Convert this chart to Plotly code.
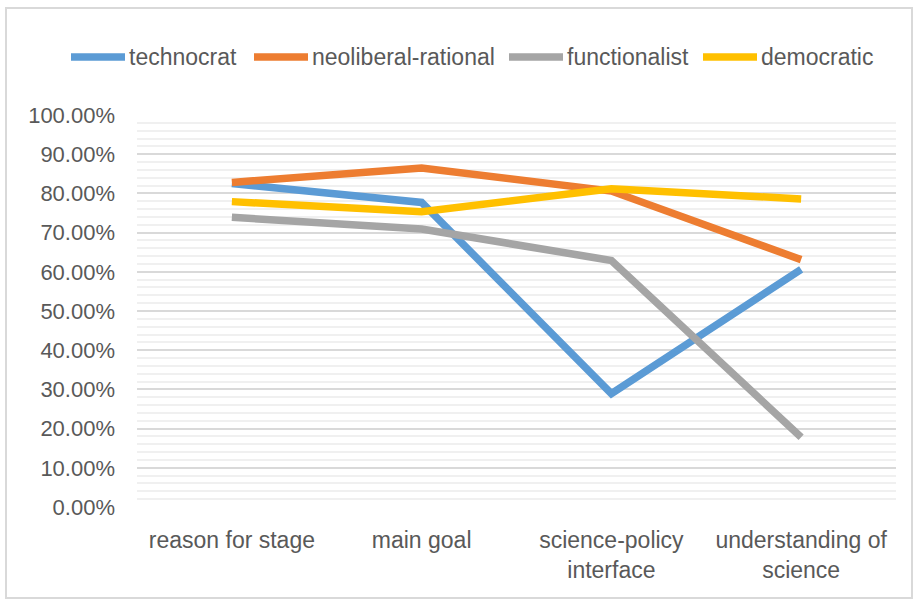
import plotly.graph_objects as go

# Categories along the x axis
categories = ["reason for stage", "main goal", "science-policy<br>interface", "understanding of<br>science"]

# Share of agreement per model (fractions)
technocrat = [0.825, 0.777, 0.289, 0.606]
neoliberal_rational = [0.828, 0.865, 0.806, 0.631]
functionalist = [0.739, 0.709, 0.629, 0.178]
democratic = [0.779, 0.753, 0.812, 0.786]

series_names = ["technocrat", "neoliberal-rational", "functionalist", "democratic"]
series_values = [technocrat, neoliberal_rational, functionalist, democratic]
series_colors = ["#5B9BD5", "#ED7D31", "#A5A5A5", "#FFC000"]

W, H = 915, 599
L, R, T, B = 137, 19, 115, 92
pw, ph = W - L - R, H - T - B


def px_x(p):
    return (p - L) / pw


def px_y(p):
    return (H - B - p) / ph


fig = go.Figure()
for name, vals, color in zip(series_names, series_values, series_colors):
    fig.add_trace(go.Scatter(
        x=categories, y=vals, name=name, mode="lines",
        line=dict(color=color, width=7.5),
        showlegend=False,
    ))

font = "Liberation Sans, Arial, sans-serif"
text_color = "#595959"
fig.update_layout(
    width=W, height=H,
    margin=dict(l=L, r=R, t=T, b=B),
    paper_bgcolor="white", plot_bgcolor="white",
    font=dict(family=font, size=22, color=text_color),
    xaxis=dict(
        type="category", range=[-0.5, 3.5],
        showgrid=False, zeroline=False, showline=False,
        ticks="", ticklabelstandoff=17,
        tickfont=dict(size=23, color=text_color),
    ),
    yaxis=dict(
        range=[0, 1], tickformat=".2%", dtick=0.1,
        showgrid=True, gridcolor="#D9D9D9", gridwidth=2,
        zeroline=False, showline=False, ticks="",
        ticklabelstandoff=21,
        tickfont=dict(size=22, color=text_color),
        minor=dict(dtick=0.02, showgrid=True, gridcolor="#F0F0F0", gridwidth=2),
    ),
)

# Legend row across the top: line swatch followed by the series name
legend_y = 57
swatch_x = [71, 254, 509, 703]
swatch_len = 54
for name, color, sx in zip(series_names, series_colors, swatch_x):
    fig.add_shape(
        type="line", xref="paper", yref="paper",
        x0=px_x(sx), x1=px_x(sx + swatch_len),
        y0=px_y(legend_y), y1=px_y(legend_y),
        line=dict(color=color, width=7.5),
    )
    fig.add_annotation(
        xref="paper", yref="paper",
        x=px_x(sx + swatch_len + 3), y=px_y(legend_y),
        xanchor="left", yanchor="middle",
        text=name, showarrow=False,
        font=dict(family=font, size=23, color=text_color),
        borderpad=0,
    )

# Light frame around the chart area
fig.add_shape(
    type="rect", xref="paper", yref="paper",
    x0=px_x(6), x1=px_x(912),
    y0=px_y(598), y1=px_y(8),
    line=dict(color="#D9D9D9", width=2), fillcolor="rgba(0,0,0,0)",
    layer="below",
)

fig.write_html("out.html")
